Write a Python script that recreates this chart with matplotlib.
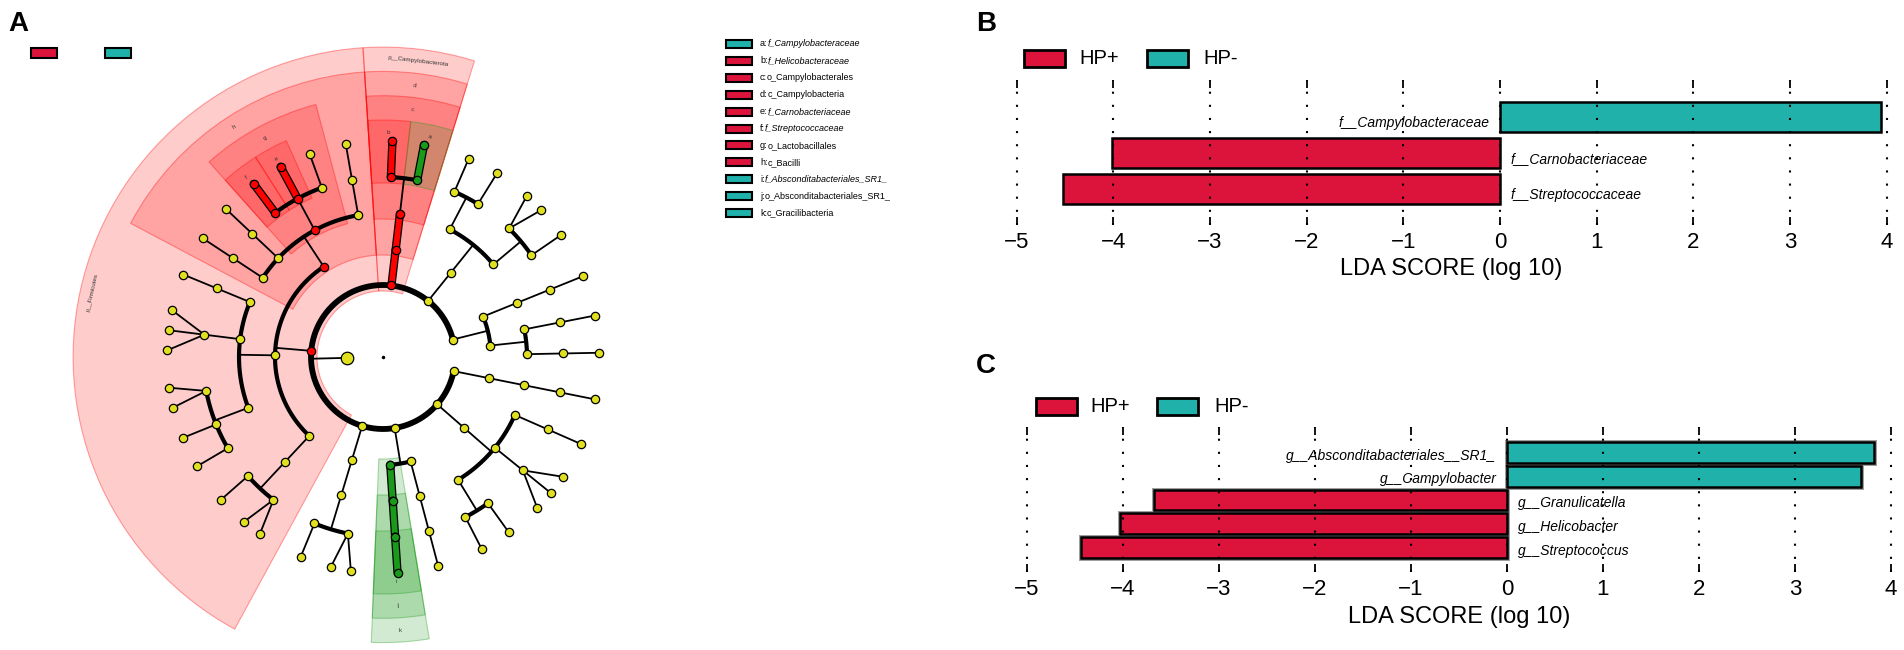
import numpy as np
import matplotlib.pyplot as plt
from matplotlib.patches import Wedge, Rectangle
from matplotlib.colors import to_rgba

plt.rcParams['font.family'] = ['Liberation Sans', 'DejaVu Sans']

# ---------------- data ----------------
# panel A: one lineage per genus (phylum, class, order, family, genus), clockwise order
lineages = [
    ("p_A", "c_A1", "o_A1", "f_A1", "g_A1"),
    ("p_B", "c_B1", "o_B1", "f_B1", "g_B1"),
    ("p_B", "c_B1", "o_B2", "f_B2", "g_B2"),
    ("p_B", "c_B1", "o_B2", "f_B2", "g_B3"),
    ("p_B", "c_B1", "o_B2", "f_B2", "g_B4"),
    ("p_B", "c_B1", "o_B3", "f_B3", "g_B5"),
    ("p_B", "c_B1", "o_B3", "f_B4", "g_B6"),
    ("p__Patescibacteria", "c_P1", "o_P1", "f_P1", "g_P1"),
    ("p__Patescibacteria", "c__Gracilibacteria", "o__Absconditabacteriales_SR1_",
     "f__Absconditabacteriales_SR1_", "g__Absconditabacteriales_SR1_"),
    ("p_D", "c_D1", "o_D1", "f_D1", "g_D1"),
    ("p_D", "c_D1", "o_D1", "f_D1", "g_D2"),
    ("p_D", "c_D1", "o_D1", "f_D2", "g_D3"),
    ("p__Firmicutes", "c_F1", "o_F1", "f_F1", "g_F1"),
    ("p__Firmicutes", "c_F1", "o_F1", "f_F1", "g_F2"),
    ("p__Firmicutes", "c_F1", "o_F1", "f_F2", "g_F3"),
    ("p__Firmicutes", "c_F2", "o_F2", "f_F3", "g_F4"),
    ("p__Firmicutes", "c_F2", "o_F2", "f_F4", "g_F5"),
    ("p__Firmicutes", "c_F2", "o_F2", "f_F5", "g_F6"),
    ("p__Firmicutes", "c_F2", "o_F2", "f_F5", "g_F7"),
    ("p__Firmicutes", "c_F2", "o_F3", "f_F6", "g_F8"),
    ("p__Firmicutes", "c_F2", "o_F3", "f_F6", "g_F9"),
    ("p__Firmicutes", "c_F2", "o_F3", "f_F6", "g_F10"),
    ("p__Firmicutes", "c_F2", "o_F4", "f_F7", "g_F11"),
    ("p__Firmicutes", "c__Bacilli", "o_F5", "f_F8", "g_F12"),
    ("p__Firmicutes", "c__Bacilli", "o_F6", "f_F9", "g_F13"),
    ("p__Firmicutes", "c__Bacilli", "o__Lactobacillales", "f__Streptococcaceae", "g__Streptococcus"),
    ("p__Firmicutes", "c__Bacilli", "o__Lactobacillales", "f__Carnobacteriaceae", "g__Granulicatella"),
    ("p__Firmicutes", "c__Bacilli", "o__Lactobacillales", "f_F10", "g_F14"),
    ("p__Firmicutes", "c__Bacilli", "o_F7", "f_F11", "g_F15"),
    ("p__Campylobacterota", "c__Campylobacteria", "o__Campylobacterales", "f__Helicobacteraceae", "g__Helicobacter"),
    ("p__Campylobacterota", "c__Campylobacteria", "o__Campylobacterales", "f__Campylobacteraceae", "g__Campylobacter"),
    ("p_G", "c_G1", "o_G1", "f_G1", "g_G1"),
    ("p_G", "c_G1", "o_G1", "f_G2", "g_G2"),
    ("p_G", "c_G1", "o_G2", "f_G3", "g_G3"),
    ("p_G", "c_G1", "o_G2", "f_G3", "g_G4"),
    ("p_G", "c_G1", "o_G2", "f_G4", "g_G5"),
    ("p_H", "c_H1", "o_H1", "f_H1", "g_H1"),
    ("p_H", "c_H2", "o_H2", "f_H2", "g_H2"),
    ("p_H", "c_H2", "o_H3", "f_H3", "g_H3"),
]
hp_pos = ["p__Firmicutes", "c__Bacilli", "o__Lactobacillales", "f__Streptococcaceae",
          "f__Carnobacteriaceae", "g__Streptococcus", "g__Granulicatella",
          "p__Campylobacterota", "c__Campylobacteria", "o__Campylobacterales",
          "f__Helicobacteraceae", "g__Helicobacter"]
hp_neg = ["f__Campylobacteraceae", "g__Campylobacter", "c__Gracilibacteria",
          "o__Absconditabacteriales_SR1_", "f__Absconditabacteriales_SR1_",
          "g__Absconditabacteriales_SR1_"]
clade_letters = {"f__Campylobacteraceae": "a", "f__Helicobacteraceae": "b",
                 "o__Campylobacterales": "c", "c__Campylobacteria": "d",
                 "f__Carnobacteriaceae": "e", "f__Streptococcaceae": "f",
                 "o__Lactobacillales": "g", "c__Bacilli": "h",
                 "f__Absconditabacteriales_SR1_": "i", "o__Absconditabacteriales_SR1_": "j",
                 "c__Gracilibacteria": "k"}
# angular gap between neighbouring genera, by number of shared ranks
gap_by_shared = [12.5, 11.0, 10.0, 8.5, 5.4]
first_leaf_deg = -11.3

legend_letters = list("abcdefghijk")
legend_taxa = ["f_Campylobacteraceae", "f_Helicobacteraceae", "o_Campylobacterales",
               "c_Campylobacteria", "f_Carnobacteriaceae", "f_Streptococcaceae",
               "o_Lactobacillales", "c_Bacilli", "f_Absconditabacteriales_SR1_",
               "o_Absconditabacteriales_SR1_", "c_Gracilibacteria"]
legend_group = ["HP-", "HP+", "HP+", "HP+", "HP+", "HP+", "HP+", "HP+", "HP-", "HP-", "HP-"]

# panels B and C: LDA scores
fam_taxa = ["f__Campylobacteraceae", "f__Carnobacteriaceae", "f__Streptococcaceae"]
fam_lda = [3.94, -4.01, -4.52]
gen_taxa = ["g__Absconditabacteriales__SR1_", "g__Campylobacter", "g__Granulicatella",
            "g__Helicobacter", "g__Streptococcus"]
gen_lda = [3.82, 3.69, -3.68, -4.03, -4.44]
groups = ["HP+", "HP-"]

group_color = {"HP+": "#DC143C", "HP-": "#20B2AA"}
RED, GREEN, YELLOW = "#ff0000", "#1a9a1a", "#e0e021"
color_of = {t: RED for t in hp_pos}
color_of.update({t: GREEN for t in hp_neg})

W, H = 1904, 650
fig = plt.figure(figsize=(W / 100, H / 100), dpi=100)


def px_axes(x0, y0, x1, y1):
    return fig.add_axes([x0 / W, 1 - y1 / H, (x1 - x0) / W, (y1 - y0) / H])


def polar(r, deg):
    t = np.deg2rad(deg)
    return r * np.cos(t), r * np.sin(t)


# ---------------- panel A: cladogram ----------------
root = ("k__Bacteria",)
nodes = {root: {"level": 1, "children": [], "leaves": []}}
for i, lin in enumerate(lineages):
    path = root
    nodes[root]["leaves"].append(i)
    for depth, name in enumerate(lin):
        child = path + (name,)
        if child not in nodes:
            nodes[child] = {"level": depth + 2, "children": [], "leaves": []}
            nodes[path]["children"].append(child)
        nodes[child]["leaves"].append(i)
        path = child

n = len(lineages)


def n_shared(a, b):
    k = 0
    while k < 4 and a[k] == b[k]:
        k += 1
    return k


gaps = np.array([gap_by_shared[n_shared(lineages[i], lineages[(i + 1) % n])] for i in range(n)])
gaps = gaps * 360.0 / gaps.sum()
leaf_deg = first_leaf_deg - np.concatenate([[0.0], np.cumsum(gaps[:-1])])


def set_angle(path):
    nd = nodes[path]
    if not nd["children"]:
        nd["deg"] = leaf_deg[nd["leaves"][0]]
    else:
        a = [set_angle(c) for c in nd["children"]]
        nd["deg"] = (max(a) + min(a)) / 2
    return nd["deg"]


set_angle(root)

STEP = 36.0


def rad(lvl):
    return STEP * lvl


def band_outer(lvl):
    return 237 + (5 - lvl) * 24.3


cx, cy, half = 383, 357, 330
ax = px_axes(cx - half, cy - half, cx + half, cy + half)
ax.set_xlim(-half, half)
ax.set_ylim(-half, half)
ax.axis('off')

# shaded clades
marked = sorted([p for p in nodes if p[-1] in color_of and nodes[p]["level"] <= 5],
                key=lambda p: nodes[p]["level"])
for p in marked:
    nd = nodes[p]
    lvl = nd["level"]
    first, last = nd["leaves"][0], nd["leaves"][-1]
    hi = leaf_deg[first] + gaps[first - 1] / 2
    lo = leaf_deg[last] - gaps[last] / 2
    r_in, r_out = rad(lvl) - 6, band_outer(lvl)
    col = color_of[p[-1]]
    ax.add_patch(Wedge((0, 0), r_out, lo, hi, width=r_out - r_in,
                       facecolor=to_rgba(col, 0.2), edgecolor=to_rgba(col, 0.35),
                       linewidth=0.8, zorder=1))
    mid = (lo + hi) / 2
    rot = (mid - 90) % 360
    if rot > 180:
        rot -= 360
    if rot > 90:
        rot -= 180
    elif rot < -90:
        rot += 180
    lx, ly = polar(r_out - 12, mid)
    ax.text(lx, ly, clade_letters.get(p[-1], p[-1]), fontsize=4.5, rotation=rot,
            ha='center', va='center', color='#333333', zorder=2)

# branches
for path, nd in nodes.items():
    ch = nd["children"]
    if not ch:
        continue
    lvl, th = nd["level"], nd["deg"]
    r0, r1 = rad(lvl), rad(lvl + 1)
    if lvl == 5:
        for c in ch:
            x0, y0 = polar(r0, th)
            x1, y1 = polar(r1, nodes[c]["deg"])
            ax.plot([x0, x1], [y0, y1], color='black', lw=1.3, zorder=3)
    else:
        x0, y0 = polar(r0, th)
        x1, y1 = polar(r1, th)
        ax.plot([x0, x1], [y0, y1], color='black', lw=1.3, zorder=3)
        if len(ch) > 1:
            degs = [nodes[c]["deg"] for c in ch]
            arc = np.linspace(min(degs), max(degs), 200)
            ax.plot(*polar(r1, arc), color='black', lw=4.2 if lvl == 1 else 3.0,
                    solid_capstyle='butt', zorder=3)
    if len(ch) == 1:
        cp, cc = color_of.get(path[-1]), color_of.get(ch[0][-1])
        if cp is not None and cp == cc:
            x0, y0 = polar(r0, th)
            x1, y1 = polar(r1, nodes[ch[0]]["deg"])
            ax.plot([x0, x1], [y0, y1], color='black', lw=6.0, solid_capstyle='round', zorder=4)
            ax.plot([x0, x1], [y0, y1], color=cp, lw=4.2, solid_capstyle='round', zorder=4)

# nodes
for path, nd in nodes.items():
    x, y = polar(rad(nd["level"]), nd["deg"])
    ax.plot(x, y, 'o', ms=9 if nd["level"] == 1 else 6,
            mfc=color_of.get(path[-1], YELLOW), mec='black', mew=0.9, zorder=5)
ax.plot(0, 0, 'o', ms=1.5, color='black', zorder=5)

# ---------------- overlay: letters and legends ----------------
ov = fig.add_axes([0, 0, 1, 1])
ov.set_xlim(0, W)
ov.set_ylim(H, 0)
ov.axis('off')

for lab, (x, y) in zip("ABC", [(18, 24), (986, 24), (986, 366)]):
    ov.text(x, y, lab, fontsize=20, fontweight='bold', ha='center', va='center')

for g, x in zip(groups, [31, 105]):
    ov.add_patch(Rectangle((x, 48), 26, 10, facecolor=group_color[g], edgecolor='black', lw=1.5))

for i, (let, tax, g) in enumerate(zip(legend_letters, legend_taxa, legend_group)):
    y = 44 + 16.9 * i
    ov.add_patch(Rectangle((726, y - 4), 26, 8, facecolor=group_color[g], edgecolor='black', lw=1.5))
    t1 = ov.text(760, y, let + ":", fontsize=6.5, ha='left', va='center')
    ov.annotate(tax, xy=(1, 0.5), xycoords=t1, fontsize=6.5, ha='left', va='center',
                style='italic' if tax.startswith('f_') else 'normal')

for ytop, xs in [(50, (1024, 1079, 1147, 1203)), (398, (1036, 1090, 1157, 1214))]:
    for k, g in enumerate(groups):
        ov.add_patch(Rectangle((xs[2 * k], ytop), 41, 17, facecolor=group_color[g],
                               edgecolor='black', lw=2))
        ov.text(xs[2 * k + 1], ytop + 8.5, g, fontsize=14.5, ha='left', va='center')


# ---------------- panels B and C ----------------
def lda_panel(box, ylim, taxa, scores, bar_h, lab_off, halo):
    a = px_axes(*box)
    ypos = np.arange(len(taxa))[::-1]
    cols = [group_color["HP-"] if s > 0 else group_color["HP+"] for s in scores]
    if halo:
        a.barh(ypos, scores, height=bar_h, color=cols, edgecolor='#a0a0a0', linewidth=3.6, zorder=1)
    a.barh(ypos, scores, height=bar_h, color=cols, edgecolor='black', linewidth=1.8, zorder=2)
    for y, t, s in zip(ypos, taxa, scores):
        if s > 0:
            a.text(-0.11, y - lab_off, t, ha='right', va='center', style='italic', fontsize=10, zorder=4)
        else:
            a.text(0.11, y - lab_off, t, ha='left', va='center', style='italic', fontsize=10, zorder=4)
    ticks = np.arange(-5, 5)
    a.set_xlim(-5.1, 4.1)
    a.set_ylim(*ylim)
    a.vlines(ticks, ylim[0], ylim[1], colors='black', linestyles=(0, (1, 5.3)), lw=1.5, zorder=3)
    a.set_xticks(ticks)
    a.set_yticks([])
    a.tick_params(axis='x', direction='in', length=5.8, width=1.3, top=True, bottom=True,
                  labelsize=16, pad=5)
    for s in a.spines.values():
        s.set_visible(False)
    a.set_xlabel('LDA SCORE (log 10)', fontsize=17, labelpad=4)
    return a


lda_panel((1500 - 5.1 * 96.7, 80, 1500 + 4.1 * 96.7, 225), (-1.0, 3.03),
          fam_taxa, fam_lda, 0.83, 0.17, False)
lda_panel((1507 - 5.1 * 96, 427, 1507 + 4.1 * 96, 572), (-1.03, 5.07),
          gen_taxa, gen_lda, 0.88, 0.13, True)

fig.savefig('out.png', dpi=100)
